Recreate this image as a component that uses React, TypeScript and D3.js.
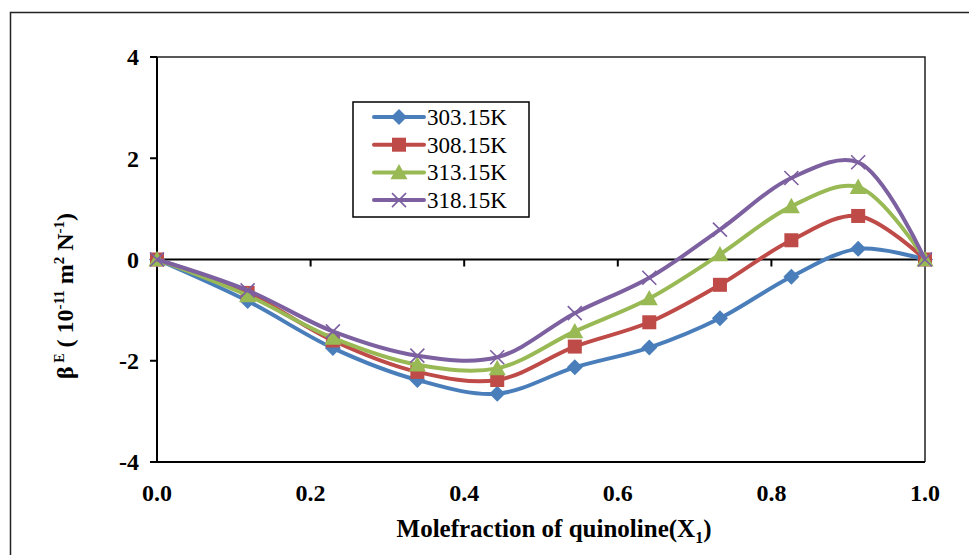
import React from 'react'
import * as d3 from 'd3'

// mole fraction of quinoline
const moleFractions = [0, 0.118, 0.229, 0.339, 0.443, 0.544, 0.641, 0.733, 0.826, 0.913, 1.0]

const beta303 = [0, -0.82, -1.75, -2.38, -2.65, -2.13, -1.74, -1.16, -0.34, 0.21, 0]
const beta308 = [0, -0.66, -1.6, -2.22, -2.38, -1.72, -1.24, -0.5, 0.38, 0.86, 0]
const beta313 = [0, -0.71, -1.55, -2.08, -2.15, -1.42, -0.77, 0.1, 1.05, 1.43, 0]
const beta318 = [0, -0.61, -1.42, -1.9, -1.93, -1.06, -0.36, 0.59, 1.61, 1.92, 0]

const seriesNames = ['303.15K', '308.15K', '313.15K', '318.15K']
const xTicks = [0, 0.2, 0.4, 0.6, 0.8, 1.0]
const yTicks = [4, 2, 0, -2, -4]

const colors = ['#4A7EBB', '#BE4B48', '#98B954', '#7D60A0']
const markerKinds = ['diamond', 'square', 'triangle', 'cross']

const W = 969
const H = 555
const plot = { left: 157, right: 925, top: 57, bottom: 462 }

const Marker = ({ kind, x, y, color }: { kind: string; x: number; y: number; color: string }) => {
  if (kind === 'diamond') {
    const s = 8
    return <path d={`M${x},${y - s}L${x + s},${y}L${x},${y + s}L${x - s},${y}Z`} fill={color} />
  }
  if (kind === 'square') {
    const s = 7
    return <rect x={x - s} y={y - s} width={s * 2} height={s * 2} fill={color} />
  }
  if (kind === 'triangle') {
    const s = 8.5
    return <path d={`M${x},${y - s}L${x + s},${y + s * 0.8}L${x - s},${y + s * 0.8}Z`} fill={color} />
  }
  const s = 7
  return (
    <path
      d={`M${x - s},${y - s}L${x + s},${y + s}M${x + s},${y - s}L${x - s},${y + s}`}
      stroke={color}
      strokeWidth={1.6}
      fill="none"
    />
  )
}

export default function App() {
  const xScale = d3.scaleLinear().domain([0, 1]).range([plot.left, plot.right])
  const yScale = d3.scaleLinear().domain([-4, 4]).range([plot.bottom, plot.top])

  const allSeries = [beta303, beta308, beta313, beta318]

  const line = d3
    .line<[number, number]>()
    .x(d => xScale(d[0]))
    .y(d => yScale(d[1]))
    .curve(d3.curveCatmullRom.alpha(0.5))

  const font = '"Liberation Serif", "DejaVu Serif", serif'
  const y0 = yScale(0)

  return (
    <div style={{ position: 'absolute', left: 0, top: 0 }}>
      <svg width={W} height={H} style={{ display: 'block', fontFamily: font }}>
        <rect x={0} y={0} width={W} height={H} fill="#fff" />
        {/* outer chart frame */}
        <path d={`M10.5,${H}L10.5,12.5L${W},12.5`} stroke="#222" strokeWidth={1.5} fill="none" />

        {/* plot area frame */}
        <path
          d={`M${plot.left},${plot.top}L${plot.right},${plot.top}L${plot.right},${plot.bottom}`}
          stroke="#222"
          strokeWidth={1.5}
          fill="none"
        />
        <line x1={plot.left} x2={plot.right} y1={plot.bottom} y2={plot.bottom} stroke="#000" strokeWidth={2} />
        <line x1={plot.left} x2={plot.left} y1={plot.top} y2={plot.bottom} stroke="#000" strokeWidth={2} />

        {/* y ticks */}
        {yTicks.map(t => (
          <g key={t}>
            <line x1={plot.left - 7} x2={plot.left} y1={yScale(t)} y2={yScale(t)} stroke="#000" strokeWidth={2} />
            <text
              x={139}
              y={yScale(t)}
              dy="0.35em"
              textAnchor="end"
              fontSize={24}
              fontWeight="bold"
            >
              {t}
            </text>
          </g>
        ))}

        {/* x axis crossing at zero */}
        <line x1={plot.left} x2={plot.right} y1={y0} y2={y0} stroke="#000" strokeWidth={2} />
        {xTicks.map(t => (
          <g key={t}>
            <line x1={xScale(t)} x2={xScale(t)} y1={y0} y2={y0 + 7} stroke="#000" strokeWidth={2} />
            <text x={xScale(t)} y={493} dy="0.35em" textAnchor="middle" fontSize={24} fontWeight="bold">
              {d3.format('.1f')(t)}
            </text>
          </g>
        ))}

        {/* series */}
        {allSeries.map((vals, i) => {
          const pts = moleFractions.map((x, j) => [x, vals[j]] as [number, number])
          return (
            <g key={i}>
              <path d={line(pts) || ''} fill="none" stroke={colors[i]} strokeWidth={4} strokeLinejoin="round" />
              {pts.map((p, j) => (
                <Marker key={j} kind={markerKinds[i]} x={xScale(p[0])} y={yScale(p[1])} color={colors[i]} />
              ))}
            </g>
          )
        })}

        {/* legend */}
        <rect x={353} y={102} width={176} height={115} fill="#fff" stroke="#000" strokeWidth={1.5} />
        {seriesNames.map((name, i) => {
          const ly = 117 + i * 27.7
          return (
            <g key={name}>
              <line x1={374} x2={424} y1={ly} y2={ly} stroke={colors[i]} strokeWidth={4} strokeLinecap="round" />
              <Marker kind={markerKinds[i]} x={399} y={ly} color={colors[i]} />
              <text x={427} y={ly} dy="0.35em" fontSize={23}>
                {name}
              </text>
            </g>
          )
        })}

        {/* axis titles */}
        <text x={554} y={537} textAnchor="middle" fontSize={25} fontWeight="bold">
          Molefraction of quinoline(X
          <tspan fontSize={16} dy={6}>1</tspan>
          <tspan dy={-6}>)</tspan>
        </text>
        <text
          transform="translate(73,296) rotate(-90)"
          textAnchor="middle"
          fontSize={24}
          fontWeight="bold"
        >
          β
          <tspan fontSize={14} dy={-9}> E</tspan>
          <tspan dy={9}> ( 10</tspan>
          <tspan fontSize={15} dy={-9}>-11</tspan>
          <tspan dy={9}> m</tspan>
          <tspan fontSize={15} dy={-9}>2</tspan>
          <tspan dy={9}> N</tspan>
          <tspan fontSize={15} dy={-9}>-1</tspan>
          <tspan dy={9}>)</tspan>
        </text>
      </svg>
    </div>
  )
}
